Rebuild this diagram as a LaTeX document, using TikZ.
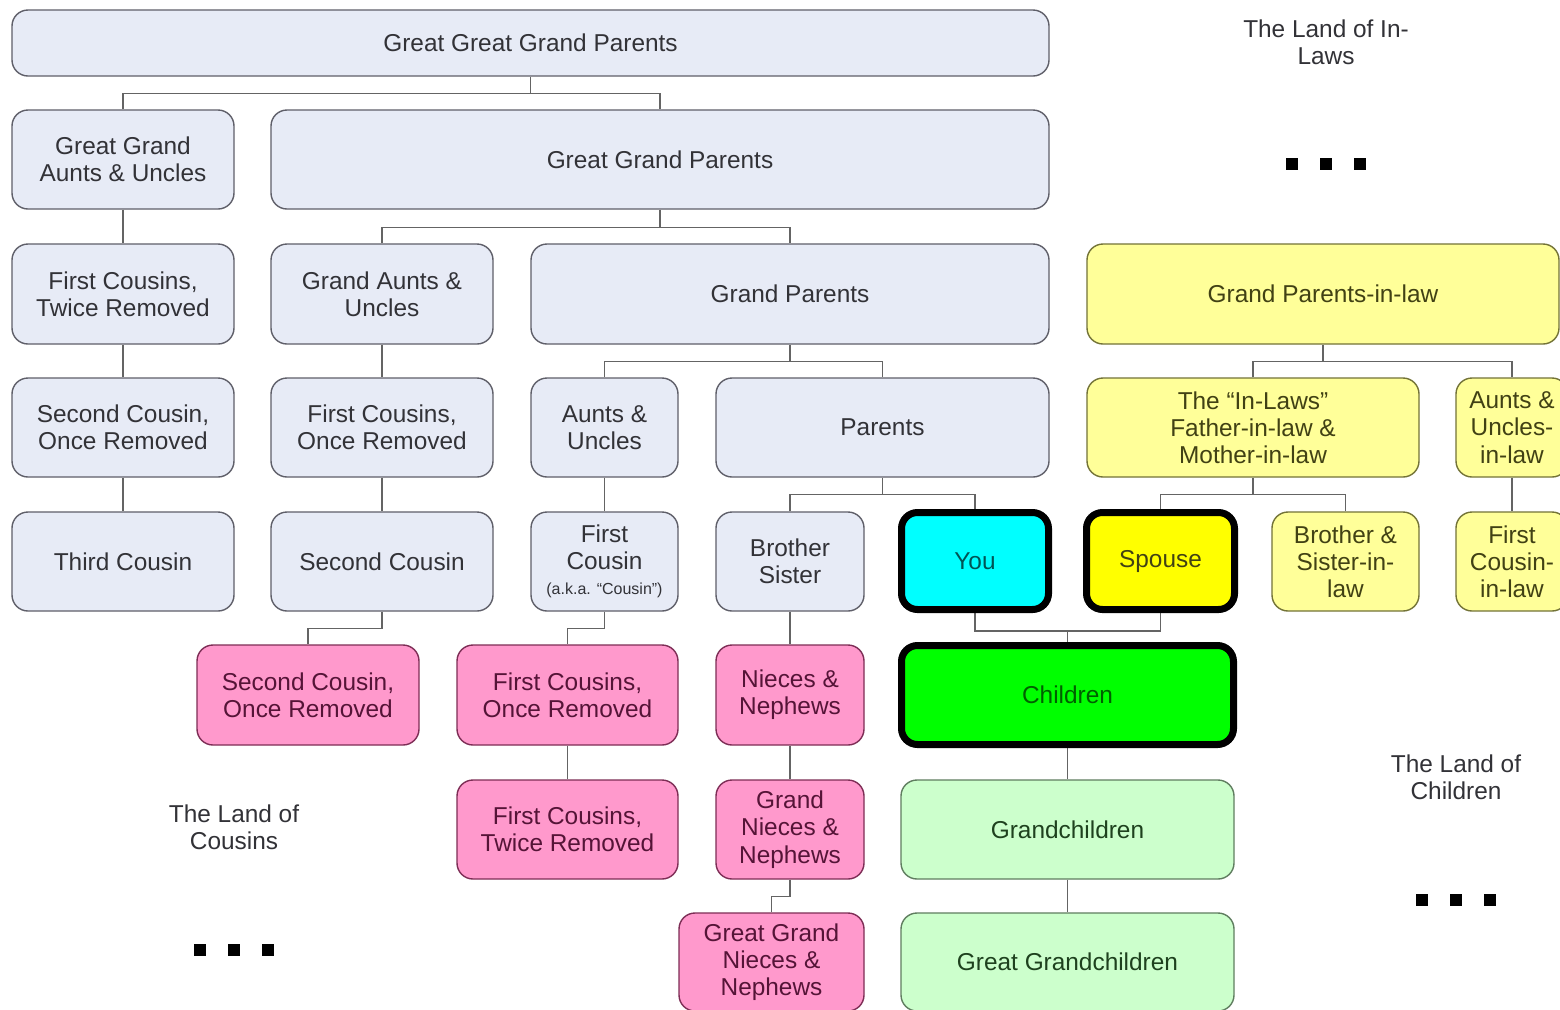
\documentclass[tikz,border=0pt]{standalone}
\usepackage{fontspec}
\setmainfont{Liberation Sans}
\usetikzlibrary{positioning}
\usetikzlibrary{backgrounds}

\definecolor{kinfill}{RGB}{231,235,246}
\definecolor{kinline}{RGB}{95,95,105}
\definecolor{kintext}{RGB}{50,50,55}
\definecolor{cousinfill}{RGB}{255,153,204}
\definecolor{cousinline}{RGB}{125,45,85}
\definecolor{cousintext}{RGB}{85,20,55}
\definecolor{inlawfill}{RGB}{255,255,153}
\definecolor{inlawline}{RGB}{115,115,55}
\definecolor{inlawtext}{RGB}{65,65,20}
\definecolor{heirfill}{RGB}{204,255,204}
\definecolor{heirline}{RGB}{95,125,95}
\definecolor{heirtext}{RGB}{30,65,30}
\definecolor{youfill}{RGB}{0,255,255}
\definecolor{youtext}{RGB}{0,85,85}
\definecolor{spousefill}{RGB}{255,255,0}
\definecolor{childfill}{RGB}{0,255,0}
\definecolor{childtext}{RGB}{0,95,0}
\definecolor{linkgrey}{RGB}{100,100,100}

\tikzset{
  kin/.style={draw=kinline, fill=kinfill, text=kintext, rounded corners=8pt, line width=0.7pt,
    align=center, inner sep=0pt, minimum height=49.5pt, font=\fontsize{12.2}{13.6}\selectfont},
  boxsize/.style 2 args={minimum width=#1*0.5pt, minimum height=#2*0.5pt},
  cousin/.style={kin, draw=cousinline, fill=cousinfill, text=cousintext},
  inlaw/.style={kin, draw=inlawline, fill=inlawfill, text=inlawtext},
  heir/.style={kin, draw=heirline, fill=heirfill, text=heirtext},
  focus/.style={draw=black, line width=3.5pt},
  link/.style={draw=linkgrey, line width=0.75pt},
  land/.style={align=center, text=kintext, font=\fontsize{12.2}{13.6}\selectfont},
}

\begin{document}
\begin{tikzpicture}[x=0.5pt,y=-0.5pt]
\useasboundingbox (0,0) rectangle (1560,1009);

% blood line
\node[kin,boxsize={1037}{66}] (gggp) at (530.5,43) {Great Great Grand Parents};
\node[kin,boxsize={222}{99}] (ggau) at (123,159.5) {Great Grand\\Aunts \& Uncles};
\node[kin,boxsize={778}{99}] (ggp) at (660,159.5) {Great Grand Parents};
\node[kin,boxsize={222}{100}] (fctr) at (123,294) {First Cousins,\\Twice Removed};
\node[kin,boxsize={222}{100}] (gau) at (382,294) {Grand Aunts \&\\Uncles};
\node[kin,boxsize={518}{100}] (gp) at (790,294) {Grand Parents};
\node[kin,boxsize={222}{99}] (scor) at (123,427.5) {Second Cousin,\\Once Removed};
\node[kin,boxsize={222}{99}] (fcor) at (382,427.5) {First Cousins,\\Once Removed};
\node[kin,boxsize={147}{99}] (au) at (604.5,427.5) {Aunts \&\\Uncles};
\node[kin,boxsize={333}{99}] (parents) at (882.5,427.5) {Parents};
\node[kin,boxsize={222}{99}] (tc) at (123,561.5) {Third Cousin};
\node[kin,boxsize={222}{99}] (sc) at (382,561.5) {Second Cousin};
\node[kin,boxsize={147}{99}] (fc) at (604.5,561.5) {First\\Cousin\\[-1pt]{\fontsize{8}{9}\selectfont (a.k.a. “Cousin”)}};
\node[kin,boxsize={148}{99}] (bs) at (790,561.5) {Brother\\Sister};
\node[kin,focus,fill=youfill,text=youtext,boxsize={147}{97}] (you) at (975,561) {You};

% in-laws
\node[inlaw,boxsize={472}{100}] (gpil) at (1323,294) {Grand Parents-in-law};
\node[inlaw,boxsize={332}{99}] (inlaws) at (1253,427.5) {The “In-Laws”\\Father-in-law \&\\Mother-in-law};
\node[inlaw,boxsize={112}{99}] (auil) at (1512,427.5) {Aunts \&\\Uncles-\\in-law};
\node[inlaw,focus,fill=spousefill,boxsize={148}{97}] (spouse) at (1160.5,561) {Spouse};
\node[inlaw,boxsize={147}{99}] (bsil) at (1345.5,561.5) {Brother \&\\Sister-in-\\law};
\node[inlaw,boxsize={112}{99}] (fcil) at (1512,561.5) {First\\Cousin-\\in-law};

% cousins and nieces
\node[cousin,boxsize={222}{100}] (scor2) at (308,695) {Second Cousin,\\Once Removed};
\node[cousin,boxsize={221}{100}] (fcor2) at (567.5,695) {First Cousins,\\Once Removed};
\node[cousin,boxsize={148}{100}] (nn) at (790,695) {Nieces \&\\Nephews};
\node[cousin,boxsize={221}{99}] (fctr2) at (567.5,829.5) {First Cousins,\\Twice Removed};
\node[cousin,boxsize={148}{99}] (gnn) at (790,829.5) {Grand\\Nieces \&\\Nephews};
\node[cousin,boxsize={185}{98}] (ggnn) at (771.5,962) {Great Grand\\Nieces \&\\Nephews};

% children
\node[heir,focus,fill=childfill,text=childtext,boxsize={332}{99}] (children) at (1067.5,695) {Children};
\node[heir,boxsize={333}{99}] (gchild) at (1067.5,829.5) {Grandchildren};
\node[heir,boxsize={333}{98}] (ggchild) at (1067.5,962) {Great Grandchildren};

% lands
\node[land] (inlawland) at (1326,42) {The Land of In-\\Laws};
\node[land] (cousinland) at (234,827) {The Land of\\Cousins};
\node[land] (childland) at (1456,777) {The Land of\\Children};
\foreach \cx/\cy in {1326/164, 234/950, 1456/900}
  \foreach \dx in {0,34,68}
    \fill[black] (\cx+\dx-40,\cy-6) rectangle ++(12,12);

\begin{scope}[on background layer]
\fill[white] (0,0) rectangle (1560,1009);
\draw[link] (gggp.south) -- ++(0,17) coordinate (j0);
\draw[link] (ggau.north) |- (j0) -| (ggp.north);
\draw[link] (ggau.south) -- (fctr.north);
\draw[link] (fctr.south) -- (scor.north);
\draw[link] (scor.south) -- (tc.north);
\draw[link] (ggp.south) -- ++(0,18) coordinate (j1);
\draw[link] (gau.north) |- (j1) -| (gp.north);
\draw[link] (gau.south) -- (fcor.north);
\draw[link] (fcor.south) -- (sc.north);
\draw[link] (sc.south) -- ++(0,17) -| (scor2.north);
\draw[link] (gp.south) -- ++(0,17) coordinate (j2);
\draw[link] (au.north) |- (j2) -| (parents.north);
\draw[link] (au.south) -- (fc.north);
\draw[link] (fc.south) -- ++(0,17) -| (fcor2.north);
\draw[link] (fcor2.south) -- (fctr2.north);
\draw[link] (parents.south) -- ++(0,17) coordinate (j3);
\draw[link] (bs.north) |- (j3) -| (you.north);
\draw[link] (bs.south) -- (nn.north);
\draw[link] (nn.south) -- (gnn.north);
\draw[link] (gnn.south) -- ++(0,17) -| (ggnn.north);
\draw[link] (you.south) -- ++(0,18) coordinate (j6) -| (spouse.south);
\draw[link] (children.north) -- (children.north |- j6);
\draw[link] (children.south) -- (gchild.north);
\draw[link] (gchild.south) -- (ggchild.north);
\draw[link] (gpil.south) -- ++(0,17) coordinate (j4);
\draw[link] (inlaws.north) |- (j4) -| (auil.north);
\draw[link] (inlaws.south) -- ++(0,17) coordinate (j5);
\draw[link] (spouse.north) |- (j5) -| (bsil.north);
\draw[link] (auil.south) -- (fcil.north);
\end{scope}

\end{tikzpicture}
\end{document}
